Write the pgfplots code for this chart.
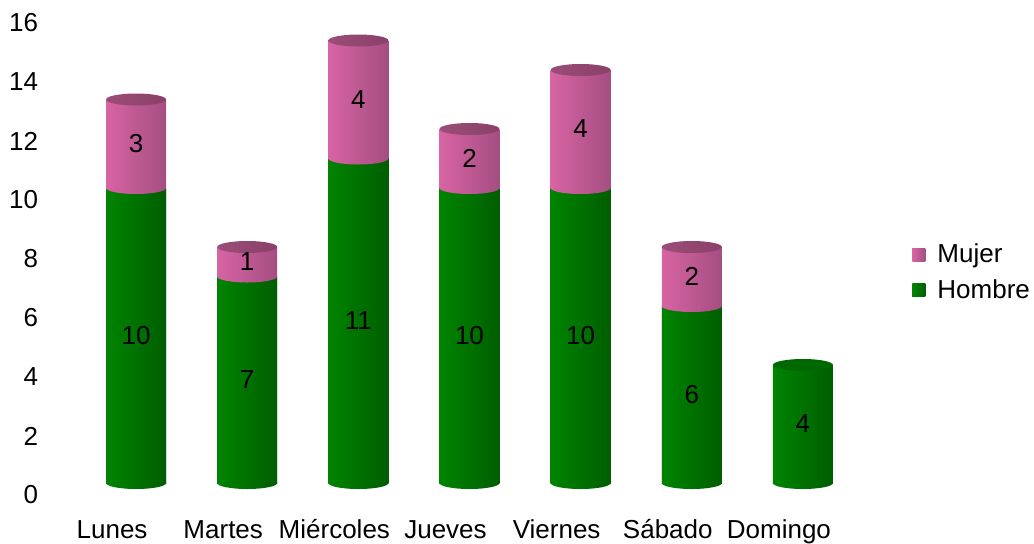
\documentclass[border=0pt]{standalone}
\usepackage{fontspec}
\setmainfont{Liberation Sans}
\usepackage{pgfplots}
\pgfplotsset{compat=1.18}
\usetikzlibrary{shapes.geometric}
\definecolor{gL}{HTML}{008400}
\definecolor{gM}{HTML}{00A000}
\definecolor{gR}{HTML}{005E00}
\definecolor{gTop}{HTML}{006800}
\definecolor{gLeg}{HTML}{008000}
\definecolor{pL}{HTML}{D864A3}
\definecolor{pM}{HTML}{E878B8}
\definecolor{pR}{HTML}{A44E82}
\definecolor{pTop}{HTML}{9A4D78}
\definecolor{pTopR}{HTML}{8A4068}
\definecolor{pLeg}{HTML}{DD6EA8}
\newcommand{\fs}{\fontsize{13}{15}\selectfont}
\pgfplotsset{
  gbar/.style={ybar, bar width=30pt, bar shift=0pt, draw=none, left color=gL, middle color=gM, right color=gR},
  pbar/.style={ybar, bar width=30pt, bar shift=0pt, draw=none, left color=pL, middle color=pM, right color=pR},
  ell/.style={draw=none, mark=none, forget plot, nodes near coords={},
    every node near coord/.style={ellipse, inner sep=0pt, minimum width=30pt, minimum height=6pt, anchor=center, draw=none, #1}},
}
\begin{document}
\begin{tikzpicture}
\useasboundingbox (-40.25pt,-30pt) rectangle (476.75pt,241.5pt);
\begin{axis}[
  scale only axis, width=389pt, height=236pt,
  xmin=-0.5, xmax=6.5, ymin=0, ymax=16,
  clip=false,
  axis line style={draw=none}, tick style={draw=none},
  xtick={0,1,2,3,4,5,6},
  xticklabels={Lunes,Martes,Miércoles,Jueves,Viernes,Sábado,Domingo},
  ytick={0,2,4,6,8,10,12,14,16},
  /pgf/number format/assume math mode=true,
  xticklabel style={font=\fs, anchor=base, inner sep=0pt, yshift=-27.75pt, xshift=-12pt},
  yticklabel style={font=\fs, anchor=east, inner sep=0pt, xshift=-21pt, yshift=-6pt},
  legend style={at={(1.0688,0.446)}, anchor=west, draw=none, fill=none, font=\fs, inner sep=0pt, row sep=3pt, column sep=4pt},
  legend cell align=left,
]
% bottom ellipses
\addplot[ell={left color=gL, middle color=gM, right color=gR}]
  coordinates {(0,0) (1,0) (2,0) (3,0) (4,0) (5,0) (6,0)};
% Mujer (top of stack: bars drawn to the totals)
\addplot[pbar, legend image code/.code={\fill[pLeg] (0pt,-3.25pt) rectangle (6.5pt,3.25pt);}] coordinates {(0,13)};
\addlegendentry{Mujer}
\addplot[pbar, forget plot] coordinates {(1,8)};
\addplot[pbar, forget plot] coordinates {(2,15)};
\addplot[pbar, forget plot] coordinates {(3,12)};
\addplot[pbar, forget plot] coordinates {(4,14)};
\addplot[pbar, forget plot] coordinates {(5,8)};
% Hombre
\addplot[gbar, legend image code/.code={\fill[gLeg] (0pt,-3.25pt) rectangle (6.5pt,3.25pt);}] coordinates {(0,10)};
\addlegendentry{Hombre}
\addplot[gbar, forget plot] coordinates {(1,7)};
\addplot[gbar, forget plot] coordinates {(2,11)};
\addplot[gbar, forget plot] coordinates {(3,10)};
\addplot[gbar, forget plot] coordinates {(4,10)};
\addplot[gbar, forget plot] coordinates {(5,6)};
\addplot[gbar, forget plot] coordinates {(6,4)};
% boundary ellipses (pink lower arc over green)
\addplot[ell={left color=pL, middle color=pM, right color=pR}]
  coordinates {(0,10) (1,7) (2,11) (3,10) (4,10) (5,6)};
% top faces
\addplot[ell={left color=pTop, right color=pTopR}]
  coordinates {(0,13) (1,8) (2,15) (3,12) (4,14) (5,8)};
\addplot[ell={fill=gTop}]
  coordinates {(6,4)};
% value labels
\addplot[draw=none, mark=none, forget plot, point meta=explicit symbolic,
  nodes near coords, every node near coord/.append style={font=\fs, anchor=center, text=black}]
  coordinates {(0,5) [10] (1,3.5) [7] (2,5.5) [11] (3,5) [10] (4,5) [10] (5,3) [6] (6,2) [4]
               (0,11.5) [3] (1,7.5) [1] (2,13) [4] (3,11) [2] (4,12) [4] (5,7) [2]};
\end{axis}
\end{tikzpicture}
\end{document}
